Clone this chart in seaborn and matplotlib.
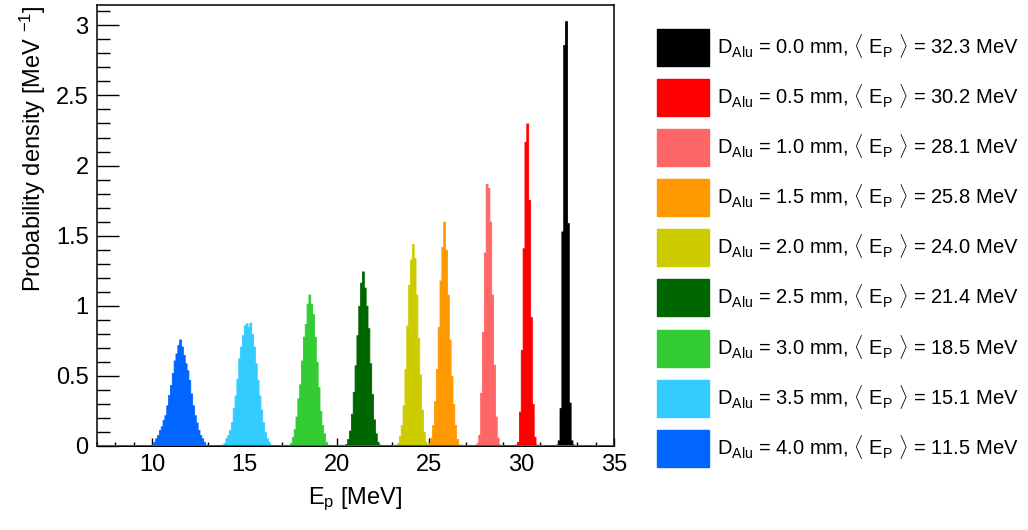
import numpy as np
import pandas as pd
import matplotlib
matplotlib.use('Agg')
import matplotlib.pyplot as plt
from matplotlib.patches import Patch
from matplotlib.ticker import MultipleLocator, FuncFormatter
import seaborn as sns

# Aluminium thickness [mm] and mean proton energy [MeV] shown in the legend
thickness = ['0.0', '0.5', '1.0', '1.5', '2.0', '2.5', '3.0', '3.5', '4.0']
mean_energy = ['32.3', '30.2', '28.1', '25.8', '24.0', '21.4', '18.5', '15.1', '11.5']
colors = ['#000000', '#ff0000', '#ff6666', '#ff9900', '#cccc00',
          '#006600', '#33cc33', '#33ccff', '#0066ff']

# histogram contents (probability density per 0.1 MeV bin),
# first_bin = centre of the first listed bin
first_bin = [31.9, 29.7, 27.6, 25.0, 23.3, 20.5, 17.5, 13.7, 9.9]
dens_00 = [0.01, 0.04, 0.27, 1.53, 2.86, 3.03, 1.59, 0.31, 0.04, 0.01]
dens_05 = [0.01, 0.03, 0.245, 0.685, 1.41, 2.17, 2.30, 1.755, 0.92, 0.30, 0.066, 0.01]
dens_10 = [0.02, 0.08, 0.38, 0.815, 1.38, 1.87, 1.84, 1.60, 1.08, 0.58, 0.21, 0.06, 0.01]
dens_15 = [0.02, 0.06, 0.15, 0.32, 0.55, 0.85, 1.18, 1.42, 1.60, 1.40, 1.08, 0.76,
           0.50, 0.30, 0.15, 0.05, 0.01]
dens_20 = [0.02, 0.07, 0.15, 0.29, 0.55, 0.86, 1.15, 1.33, 1.44, 1.34, 1.08, 0.77,
           0.51, 0.26, 0.10, 0.03, 0.01]
dens_25 = [0.015, 0.05, 0.11, 0.23, 0.385, 0.575, 0.79, 1.00, 1.165, 1.245, 1.13,
           1.00, 0.84, 0.59, 0.37, 0.19, 0.09, 0.03, 0.01]
dens_30 = [0.02, 0.064, 0.12, 0.21, 0.34, 0.44, 0.61, 0.78, 0.87, 1.015, 1.08, 1.015,
           0.94, 0.78, 0.60, 0.42, 0.25, 0.15, 0.09, 0.03, 0.01]
dens_35 = [0.005, 0.01, 0.02, 0.055, 0.078, 0.114, 0.17, 0.27, 0.36, 0.48, 0.625,
           0.71, 0.79, 0.86, 0.875, 0.85, 0.88, 0.80, 0.71, 0.59, 0.47, 0.36, 0.26,
           0.17, 0.10, 0.055, 0.03, 0.01]
dens_40 = [0.005, 0.01, 0.03, 0.055, 0.078, 0.114, 0.14, 0.185, 0.22, 0.29, 0.364,
           0.435, 0.52, 0.61, 0.66, 0.72, 0.76, 0.71, 0.65, 0.59, 0.54, 0.47, 0.375,
           0.29, 0.22, 0.167, 0.114, 0.078, 0.055, 0.03, 0.01, 0.005]
densities = [dens_00, dens_05, dens_10, dens_15, dens_20, dens_25, dens_30, dens_35, dens_40]

BIN = 0.1
edges = [round(e, 2) for e in np.arange(6.95, 35.0, BIN)]

# long-format table for seaborn
rows = []
for d, start, vals in zip(thickness, first_bin, densities):
    for i, v in enumerate(vals):
        rows.append({'thickness': d, 'E': round(start + i * BIN, 2), 'density': v})
df = pd.DataFrame(rows)

sns.set_style('ticks')
plt.rcParams['font.family'] = ['Liberation Sans', 'DejaVu Sans']
plt.rcParams['mathtext.fontset'] = 'custom'
plt.rcParams['mathtext.rm'] = 'Liberation Sans'
plt.rcParams['mathtext.it'] = 'Liberation Sans'
for key in ['text.color', 'axes.labelcolor', 'xtick.color', 'ytick.color']:
    plt.rcParams[key] = 'black'

fig = plt.figure(figsize=(10.28, 5.30), dpi=100)
ax = fig.add_axes([97 / 1028, 1 - 446 / 530, 517 / 1028, 441 / 530])

sns.histplot(data=df, x='E', weights='density', hue='thickness',
             hue_order=thickness, palette=colors, bins=edges,
             element='step', fill=True, alpha=1, linewidth=0.6,
             multiple='layer', legend=False, ax=ax)
ax.axhline(0, color='#2e6e6e', lw=1.5, zorder=5)

ax.set_xlim(7, 35)
ax.set_ylim(0, 3.145)
ax.xaxis.set_major_locator(MultipleLocator(5))
ax.xaxis.set_minor_locator(MultipleLocator(1))
ax.yaxis.set_major_locator(MultipleLocator(0.5))
ax.yaxis.set_minor_locator(MultipleLocator(0.1))
ax.yaxis.set_major_formatter(FuncFormatter(lambda v, p: f'{v:g}'))
ax.tick_params(axis='both', which='both', direction='in', top=False, right=False,
               labelsize=17, width=1.0, color='black', labelcolor='black')
ax.tick_params(axis='x', which='major', length=6, pad=6)
ax.tick_params(axis='x', which='minor', length=3)
ax.tick_params(axis='y', which='major', length=16, pad=6)
ax.tick_params(axis='y', which='minor', length=9)
for s in ax.spines.values():
    s.set_linewidth(1.1)
    s.set_color('black')

ax.set_xlabel(r'E$_{\mathrm{p}}$ [MeV]', fontsize=17)
ax.xaxis.set_label_coords(0.5, -0.09)
ax.set_ylabel(r'Probability density [MeV $^{\mathrm{-1}}$]', fontsize=17, loc='top')
ax.yaxis.set_label_coords(-0.095, 1.0)

handles = [Patch(facecolor=c, edgecolor=c) for c in colors]
labels = [r'D$_{\mathrm{Alu}}$ = ' + d + r' mm, $\langle$ E$_{\mathrm{P}}$ $\rangle$ = ' + m + ' MeV'
          for d, m in zip(thickness, mean_energy)]
leg = fig.legend(handles, labels, loc='upper left', bbox_to_anchor=(657 / 1028, 1 - 29 / 530),
                 frameon=False, fontsize=14.5, handlelength=2.6, handleheight=2.45,
                 handletextpad=0.4, labelspacing=0.65, borderpad=0, borderaxespad=0)
for t in leg.get_texts():
    t.set_color('black')

fig.savefig('out.png', dpi=100, facecolor='white')
